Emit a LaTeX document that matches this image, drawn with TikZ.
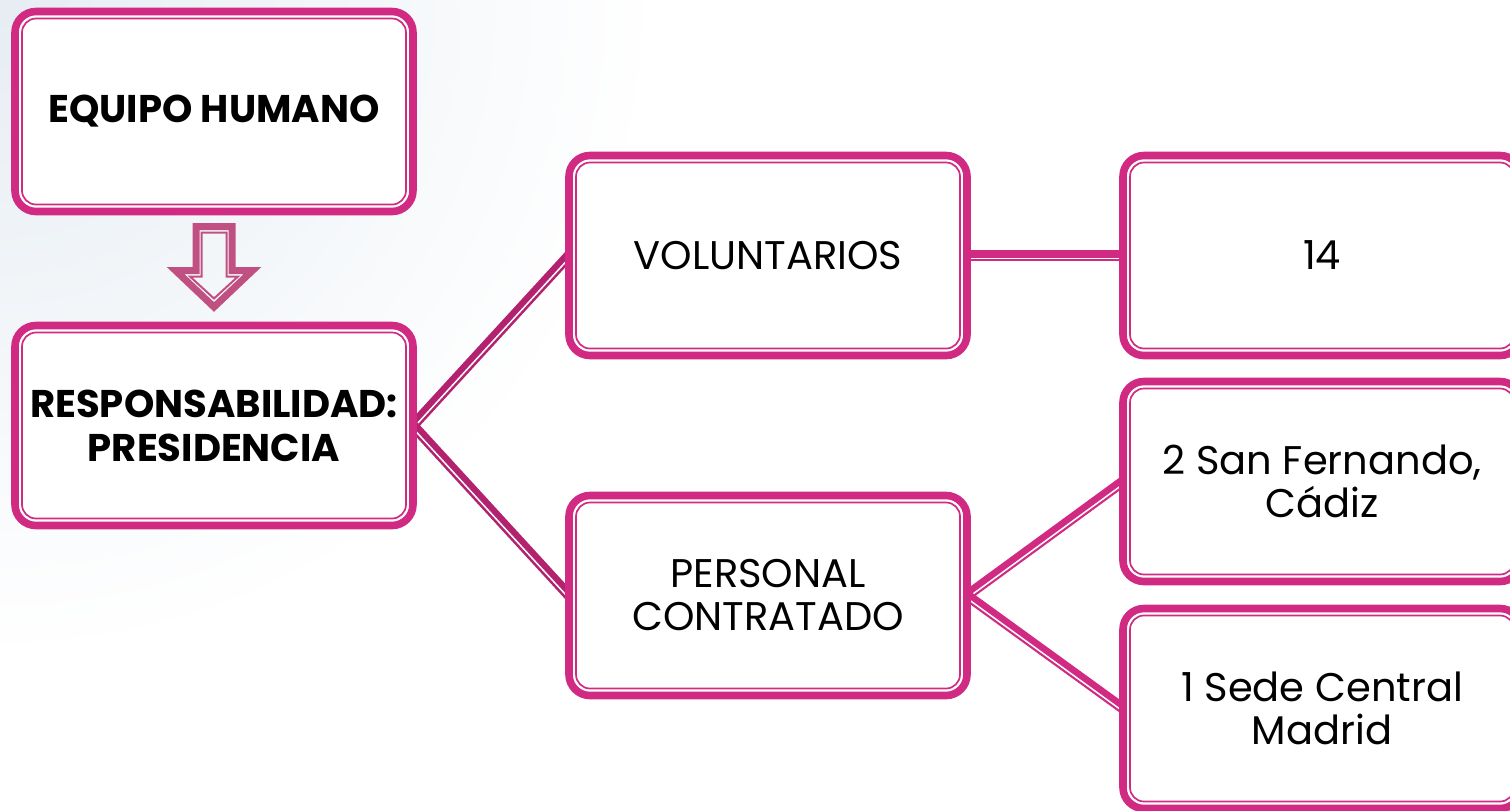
\documentclass[tikz,border=0pt]{standalone}
\usepackage{fontspec}
\setmainfont{Poppins}
\usepackage{tikz}
\usetikzlibrary{positioning,backgrounds}
\definecolor{boxpink}{HTML}{D02A82}
\definecolor{linkpink}{HTML}{B3226F}
\definecolor{arrowpink}{HTML}{C15082}
\definecolor{bgtint}{HTML}{E6EDF3}

\begin{document}
\begin{tikzpicture}[x=0.5pt,y=-0.5pt,node distance=157pt and 277pt,on grid,
    box/.style={draw=boxpink,line width=3.8pt,fill=white,rounded corners=10.5pt,
      minimum width=199pt,minimum height=100pt,inner sep=0pt,outer sep=0pt,
      align=center,font=\fontsize{20}{21.5}\selectfont},
    boldbox/.style={box,font=\fontsize{19.3}{22}\selectfont\bfseries},
    boxline/.style={draw=boxpink,line width=0.85pt,rounded corners=7pt},
    linkline/.style={line width=5.25pt},
    linkgap/.style={draw=white,line width=0.75pt,transform canvas={yshift=-1.4pt}}]
  \useasboundingbox (0,0) rectangle (1510,810);
  \begin{pgfonlayer}{background}
    \shade[inner color=bgtint,outer color=white] (0,0) circle (330pt);
  \end{pgfonlayer}
  % left column
  \node[boldbox] (equipo) at (214,111.5) {EQUIPO HUMANO};
  \node[boldbox] (resp) [below=of equipo] {RESPONSABILIDAD:\\PRESIDENCIA};
  % middle and right columns
  \node[box] (volun) [above right=85pt and 277pt of resp] {VOLUNTARIOS};
  \node[box] (personal) [below=170pt of volun] {PERSONAL\\CONTRATADO};
  \node[box] (fourteen) [right=of volun] {14};
  \node[box] (sanfer) [above right=57pt and 277pt of personal] {2 San Fernando,\\Cádiz};
  \node[box] (sede) [below right=56.5pt and 277pt of personal] {1 Sede Central\\Madrid};
  \foreach \n in {equipo,resp,volun,fourteen,personal,sanfer,sede}
    \draw[boxline] ([shift={(3.5pt,3.5pt)}]\n.south west) rectangle ([shift={(-3.5pt,-3.5pt)}]\n.north east);
  % hollow arrow
  \draw[arrowpink,line width=3.5pt] (196,226.5) -- (232,226.5) -- (232,270.5) -- (252.5,270.5)
    -- (214,307) -- (175.5,270.5) -- (196,270.5) -- cycle;
  \draw[arrowpink,line width=1pt] (201.5,232.5) -- (226.5,232.5) -- (226.5,276.5) -- (238,276.5)
    -- (214,298.5) -- (190,276.5) -- (201.5,276.5) -- cycle;
  % connectors
  \begin{pgfonlayer}{background}
    \foreach \a/\b/\c in {resp/volun/linkpink,resp/personal/linkpink,volun/fourteen/boxpink,
        personal/sanfer/boxpink,personal/sede/boxpink}{
      \draw[linkline,draw=\c] (\a.east) -- (\b.west);
      \draw[linkgap] (\a.east) -- (\b.west);
    }
  \end{pgfonlayer}
\end{tikzpicture}
\end{document}
